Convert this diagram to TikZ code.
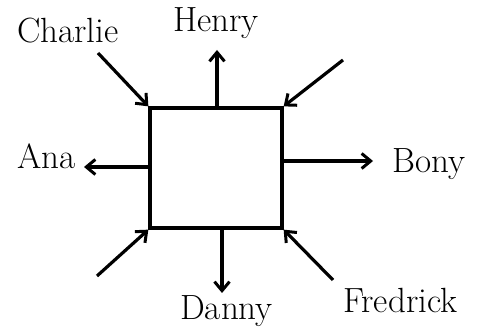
\documentclass[tikz,border=0pt]{standalone}
\usetikzlibrary{arrows.meta}
\begin{document}
\begin{tikzpicture}[x=1pt,y=-1pt,
  lbl/.style={inner sep=0pt,anchor=base west,font=\fontsize{35}{40}\selectfont},
  arr/.style={line width=3.2pt,-{Straight Barb[length=9pt,width=15pt,line width=3pt]}},
  box/.style={draw,line width=3.3pt,minimum width=132pt,minimum height=120pt,inner sep=0pt}]
\useasboundingbox (0,0) rectangle (487,328);
\node[box] (sq) at (216,168) {};
\node[lbl] (charlie) at (17,43) {Charlie};
\node[lbl] (henry) at (173,32) {Henry};
\node[lbl] (ana) at (17,169) {Ana};
\node[lbl] (bony) at (392,173) {Bony};
\node[lbl] (danny) at (180,320) {Danny};
\node[lbl] (fredrick) at (343,313) {Fredrick};
\coordinate (c0) at (98,53);
\coordinate (h0) at (217,108);
\coordinate (h1) at (217,50);
\coordinate (r0) at (343,60);
\coordinate (a0) at (150,167);
\coordinate (a1) at (84,167);
\coordinate (b0) at (282,161);
\coordinate (b1) at (373,161);
\coordinate (l0) at (97,276);
\coordinate (d0) at (222,228);
\coordinate (d1) at (222,293);
\coordinate (f0) at (333,280);
\draw[arr] (c0) -- (sq.north west);
\draw[arr] (h0) -- (h1);
\draw[arr] (r0) -- (sq.north east);
\draw[arr] (a0) -- (a1);
\draw[arr] (b0) -- (b1);
\draw[arr] (l0) -- (sq.south west);
\draw[arr] (d0) -- (d1);
\draw[arr] (f0) -- (sq.south east);
\end{tikzpicture}
\end{document}
